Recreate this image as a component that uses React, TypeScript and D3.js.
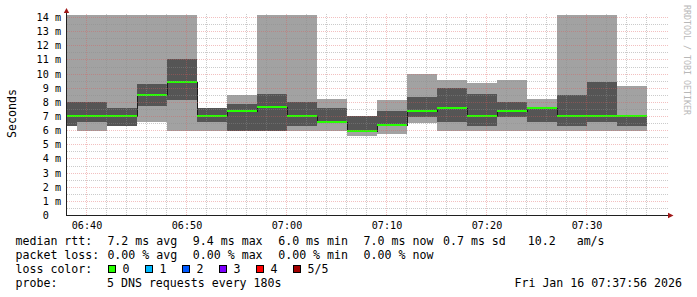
import React from 'react';
import * as d3 from 'd3';

// ---- data ----
const stepStarts = ["06:36","06:39","06:42","06:45","06:48","06:51","06:54","06:57","07:00","07:03",
  "07:06","07:09","07:12","07:15","07:18","07:21","07:24","07:27","07:30","07:33"];
// sorted ping times (ms) for the 5 requests of each step
const ping1 = [6.35,6.0,6.35,6.6,6.0,6.0,6.0,6.0,6.0,6.0,5.62,5.75,6.57,6.0,6.0,6.0,6.0,6.0,6.0,6.0];
const ping2 = [6.35,6.64,6.35,7.77,8.17,6.64,6.0,6.0,6.35,6.52,5.98,6.3,6.99,6.6,6.35,6.99,6.64,6.35,6.64,6.35];
const medianRtt = [7.04,7.04,7.04,8.55,9.44,7.04,7.41,7.65,7.04,6.64,6.0,6.38,7.41,7.63,7.04,7.41,7.6,7.04,7.04,7.04];
const ping4 = [8.0,8.0,7.58,9.3,11.06,7.58,7.87,8.6,8.03,7.58,7.04,7.41,8.4,9.04,8.6,8.05,7.65,8.52,9.44,7.1];
const ping5 = [14.2,14.2,14.2,14.2,14.2,7.58,8.52,14.2,14.2,8.24,7.04,8.17,10.0,9.58,9.37,9.58,8.24,14.2,14.2,9.16];

const xMajorTicks = ["06:40","06:50","07:00","07:10","07:20","07:30"];
const yTickValues = [0,1,2,3,4,5,6,7,8,9,10,11,12,13,14];
const yTickLabels = ["0","1 m","2 m","3 m","4 m","5 m","6 m","7 m","8 m","9 m","10 m","11 m","12 m","13 m","14 m"];

const rttLabel = "median rtt:";
const rttStats = ["7.2 ms avg","9.4 ms max","6.0 ms min","7.0 ms now","0.7 ms sd","10.2   am/s"];
const lossLabel = "packet loss:";
const lossStats = ["0.00 % avg","0.00 % max","0.00 % min","0.00 % now"];
const lossColorLabel = "loss color:";
const lossColorNames = ["0","1","2","3","4","5/5"];
const lossColors = ["#26ff00","#00b8ff","#0059ff","#7e00ff","#ff0000","#a10000"];
const probeLabel = "probe:";
const probeText = "5 DNS requests every 180s";
const dateText = "Fri Jan 16 07:37:56 2026";
const watermark = "RRDTOOL / TOBI OETIKER";
const yTitle = "Seconds";

// ---- helpers ----
const day = (hm: string) => {
  const [h, m] = hm.split(":").map(Number);
  return new Date(2026, 0, 16, h, m, 0);
};

const W = 697, H = 297;
const MONO = "'DejaVu Sans Mono', monospace";

export default function App() {
  const t0 = day("06:38"), t1 = day("07:38");
  const x = d3.scaleTime().domain([t0, t1]).range([67, 667]);
  const y = d3.scaleLinear().domain([0, 14.2]).range([215.5, 14.7]);
  const stepMs = 180 * 1000;

  const cols = stepStarts.map((s, i) => {
    const st = day(s);
    const en = new Date(st.getTime() + stepMs);
    const xa = Math.max(x(st), x(t0));
    const xb = Math.min(x(en), x(t1));
    return { xa, xb, p1: ping1[i], p2: ping2[i], med: medianRtt[i], p4: ping4[i], p5: ping5[i] };
  });

  const minorX = d3.timeMinute.every(2)!.range(t0, t1).filter(d => d.getMinutes() % 10 !== 0);
  const majorX = xMajorTicks.map(day);
  const minorY = d3.range(0.5, 14.2, 1);

  const medianLine = d3.line<any>()
    .x(d => d.x).y(d => d.y)
    .curve(d3.curveStepAfter);
  const medPts = cols.map(c => ({ x: c.xa, y: Math.round(y(c.med)) }));
  medPts.push({ x: cols[cols.length - 1].xb, y: Math.round(y(cols[cols.length - 1].med)) });

  const gridMinor = "rgba(140,140,140,0.45)";
  const gridMajor = "rgba(220,90,90,0.38)";
  const px = (v: number) => Math.floor(v) + 0.5;

  const legendX = [107.4, 192.8, 278.2, 363.6, 443, 527.8];

  return (
    <div style={{ position: 'absolute', left: 0, top: 0 }}>
      <svg width={W} height={H} viewBox={`0 0 ${W} ${H}`} style={{ display: 'block', background: '#fff' }}>
        <rect x={0} y={0} width={W} height={H} fill="#ffffff" />
        {/* smoke */}
        <g shapeRendering="crispEdges">
          {cols.map((c, i) => (
            <rect key={'l' + i} x={c.xa} width={c.xb - c.xa}
              y={Math.round(y(c.p5))} height={Math.round(y(c.p1)) - Math.round(y(c.p5))} fill="#a2a2a2" />
          ))}
          {cols.map((c, i) => (
            <rect key={'d' + i} x={c.xa} width={c.xb - c.xa}
              y={Math.round(y(c.p4))} height={Math.round(y(c.p2)) - Math.round(y(c.p4))} fill="#555555" />
          ))}
        </g>
        {/* median */}
        <path d={medianLine(medPts) || ''} fill="none" stroke="#1a1a1a" strokeWidth={1} shapeRendering="crispEdges" />
        <g shapeRendering="crispEdges">
          {cols.map((c, i) => (
            <rect key={'m' + i} x={c.xa} width={c.xb - c.xa} y={Math.round(y(c.med)) - 1} height={2} fill={lossColors[0]} />
          ))}
        </g>
        {/* grid */}
        <g strokeDasharray="1,1" strokeWidth={1} shapeRendering="crispEdges">
          {minorY.map((v, i) => (
            <line key={'hy' + i} x1={67} x2={668} y1={px(y(v))} y2={px(y(v))} stroke={gridMinor} />
          ))}
          {yTickValues.filter(v => v > 0).map((v, i) => (
            <line key={'My' + i} x1={67} x2={668} y1={px(y(v))} y2={px(y(v))} stroke={gridMajor} />
          ))}
          {minorX.map((d, i) => (
            <line key={'vx' + i} x1={x(d) - 0.5} x2={x(d) - 0.5} y1={14} y2={215} stroke={gridMinor} />
          ))}
          {majorX.map((d, i) => (
            <line key={'Mx' + i} x1={x(d) - 0.5} x2={x(d) - 0.5} y1={14} y2={215} stroke={gridMajor} />
          ))}
        </g>
        {/* axes */}
        <line x1={66.5} x2={66.5} y1={12} y2={216} stroke="#202020" />
        <line x1={66} x2={669} y1={215.5} y2={215.5} stroke="#202020" />
        <polygon points="63.8,13 69.2,13 66.5,8" fill="#a01818" />
        <polygon points="668,212.8 668,218.2 673.5,215.5" fill="#a01818" />
        {/* y labels */}
        <g fontFamily={MONO} fontSize={10.15} fill="#000" textAnchor="end">
          {yTickValues.map((v, i) => (
            <text key={'yl' + i} x={v === 0 ? 48.8 : 61} y={px(y(v)) + 3.7}>{yTickLabels[i]}</text>
          ))}
        </g>
        {/* x labels */}
        <g fontFamily={MONO} fontSize={10.15} fill="#000" textAnchor="middle">
          {majorX.map((d, i) => (
            <text key={'xl' + i} x={x(d)} y={229}>{xMajorTicks[i]}</text>
          ))}
        </g>
        {/* titles */}
        <text transform="translate(15.5,113.5) rotate(-90)" textAnchor="middle" fontFamily={MONO} fontSize={11.6} fill="#000">{yTitle}</text>
        <text transform="translate(684,5) rotate(90)" fontFamily={MONO} fontSize={8.3} fill="#b8b8b8">{watermark}</text>
        {/* legend */}
        <g fontFamily={MONO} fontSize={11.6} fill="#000" style={{ whiteSpace: 'pre' }}>
          <text x={15.5} y={245}>{rttLabel}</text>
          {rttStats.map((s, i) => (
            <text key={'r' + i} x={legendX[i]} y={245} xmlSpace="preserve">{s}</text>
          ))}
          <text x={15.5} y={259}>{lossLabel}</text>
          {lossStats.map((s, i) => (
            <text key={'p' + i} x={legendX[i]} y={259}>{s}</text>
          ))}
          <text x={15.5} y={273}>{lossColorLabel}</text>
          {lossColorNames.map((s, i) => (
            <g key={'c' + i}>
              <rect x={108.5 + i * 37} y={265.5} width={7} height={7} fill={lossColors[i]} stroke="#000" strokeWidth={1} shapeRendering="crispEdges" />
              <text x={122.5 + i * 37} y={273}>{s}</text>
            </g>
          ))}
          <text x={15.5} y={287}>{probeLabel}</text>
          <text x={107} y={287}>{probeText}</text>
          <text x={682} y={287} textAnchor="end">{dateText}</text>
        </g>
      </svg>
    </div>
  );
}
